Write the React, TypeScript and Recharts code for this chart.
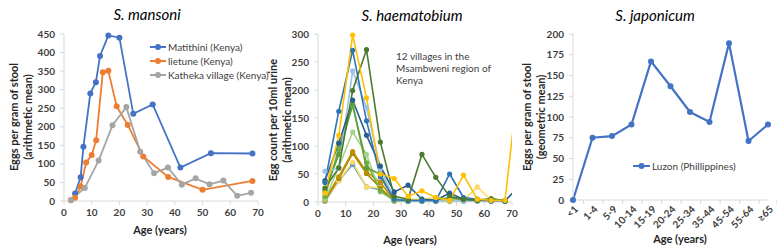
import React from "react";
import { LineChart, Line, XAxis, YAxis } from "recharts";

const FONT = "Lato, 'Open Sans', sans-serif";
const INK = "#404040";
const AXIS = "#d9d9d9";

// S. mansoni (Kenya), arithmetic mean eggs per gram of stool
const matithiniAge = [4, 6, 7, 9.5, 11.5, 13, 16, 20, 25, 32, 42, 53, 68];
const matithiniEggs = [20, 64, 146, 290, 320, 391, 446, 440, 235, 260, 90, 129, 128];
const ietuneAge = [2.5, 4, 6, 8, 10, 11.6, 14, 16, 19, 23, 28.6, 37.6, 50, 68];
const ietuneEggs = [2, 9, 39, 104, 124, 164, 347, 351, 255, 205, 120, 65, 30, 54];
const kathekaAge = [2.5, 7.5, 12.5, 17.5, 22.5, 27.5, 32.5, 37.5, 42.5, 47.5, 52.5, 57.5, 62.5, 67.5];
const kathekaEggs = [3, 35, 109, 204, 253, 133, 75, 90, 44, 61, 45, 55, 14, 22];
const mansoniTicksX = [0, 10, 20, 30, 40, 50, 60, 70];
const mansoniTicksY = [0, 50, 100, 150, 200, 250, 300, 350, 400, 450];

// S. haematobium, 12 villages in Msambweni (Kenya), eggs per 10ml urine
const haemAge = [2.5, 7.5, 12.5, 17.5, 22.5, 27.5, 32.5, 37.5, 42.5, 47.5, 52.5, 57.5, 62.5, 67.5, 72.5];
const village1 = [16, 119, 298, 186, 50, 42, 10, 20, 8, 3, 48, 5, 3, 3, 223];
const village2 = [35, 162, 271, 145, 45, 5, 2, 2, 2, 50, 8, 5, 3, 2];
const village3 = [55, 60, 234, 169, 60, 5, 3, 2, 2, 3, 2, 2, 2, 3];
const village4 = [25, 61, 199, 272, 107, 10, 5, 85, 44, 10, 5, 3, 5, 3];
const village5 = [38, 105, 182, 119, 64, 18, 30, 5, 3, 16, 5, 3, 2, 2, 28];
const village6 = [20, 85, 175, 61, 50, 5, 3, 3, 3, 8, 3, 3, 6, 2];
const village7 = [10, 95, 172, 70, 20, 3, 2, 2, 2, 3, 2, 2, 3, 2];
const village8 = [5, 62, 125, 85, 18, 3, 2, 2, 2, 2, 2, 2, 5, 2];
const village9 = [5, 45, 90, 54, 35, 3, 3, 2, 3, 2, 3, 2, 2, 2];
const village10 = [3, 42, 87, 51, 25, 2, 2, 2, 2, 2, 2, 2, 2, 2];
const village11 = [2, 38, 71, 27, 25, 3, 5, 5, 8, 5, 3, 27, 3, 3];
const village12 = [1, 38, 67, 27, 22, 2, 2, 2, 2, 2, 2, 2, 2, 2];
const haemVillages = [village12, village11, village10, village9, village8, village7, village6, village3, village5, village2, village4, village1];
const haemColors = ["#5b9bd5", "#ffd966", "#a68a00", "#bf9000", "#a9d18e", "#70ad47", "#5e9e3a", "#9dc3e6", "#255e91", "#2e75b6", "#4a7a2e", "#ffc000"];
const haemTicksY = [0, 50, 100, 150, 200, 250, 300];

// S. japonicum, Luzon (Phillippines), geometric mean eggs per gram of stool
const japonicumAge = ["<1", "1-4", "5-9", "10-14", "15-19", "20-24", "25-34", "35-44", "45-54", "55-64", "≥65"];
const japonicumEggs = [0, 75, 77, 91, 167, 137, 106, 94, 189, 71, 91];
const japonicumTicksY = [0, 25, 50, 75, 100, 125, 150, 175, 200];

const toRows = (ages: (number | string)[], eggs: number[]) =>
  eggs.map((e, i) => ({ age: ages[i], eggs: e }));

const tickStyle = { fill: INK, fontSize: 10, fontWeight: 700, fontFamily: FONT };

function Txt({ x, y, children, style }: { x: number; y: number; children: React.ReactNode; style?: React.CSSProperties }) {
  return (
    <div
      style={{
        position: "absolute",
        left: x,
        top: y,
        transform: "translate(-50%, -50%)",
        whiteSpace: "nowrap",
        fontFamily: FONT,
        color: INK,
        textAlign: "center",
        ...style,
      }}
    >
      {children}
    </div>
  );
}

function YTitle({ x, y, lines }: { x: number; y: number; lines: string[] }) {
  return (
    <Txt x={x} y={y} style={{ transform: "translate(-50%, -50%) rotate(-90deg)", fontSize: 11, fontWeight: 700, lineHeight: "14px", color: "#262626" }}>
      {lines.map((l) => (
        <div key={l}>{l}</div>
      ))}
    </Txt>
  );
}

function LegendRow({ color, label, width = 16 }: { color: string; label: string; width?: number }) {
  return (
    <div style={{ display: "flex", alignItems: "center", height: 14, fontFamily: FONT, fontSize: 10, color: INK }}>
      <svg width={width} height={8} style={{ marginRight: 2 }}>
        <line x1={0} y1={4} x2={width} y2={4} stroke={color} strokeWidth={2} />
        <circle cx={width / 2} cy={4} r={3} fill={color} />
      </svg>
      {label}
    </div>
  );
}

function JapTick(props: any) {
  const { x, y, payload, index } = props;
  const bw = 195 / 11;
  return (
    <g>
      <line x1={x - bw / 2} y1={y} x2={x - bw / 2} y2={y + 4} stroke={AXIS} />
      {index === japonicumAge.length - 1 && <line x1={x + bw / 2} y1={y} x2={x + bw / 2} y2={y + 4} stroke={AXIS} />}
      <text x={x + 3} y={y + 7} transform={`rotate(-45, ${x + 3}, ${y + 7})`} textAnchor="end" dominantBaseline="central" {...tickStyle}>
        {payload.value}
      </text>
    </g>
  );
}

export default function App() {
  const mansoni = [
    { name: "Matithini (Kenya)", color: "#4472c4", rows: toRows(matithiniAge, matithiniEggs) },
    { name: "lietune (Kenya)", color: "#ed7d31", rows: toRows(ietuneAge, ietuneEggs) },
    { name: "Katheka village (Kenya)", color: "#a5a5a5", rows: toRows(kathekaAge, kathekaEggs) },
  ];
  const haem = haemVillages.map((v) => toRows(haemAge, v));
  const jap = toRows(japonicumAge, japonicumEggs);

  return (
    <div style={{ position: "absolute", left: 0, top: 0, width: 777, height: 252, background: "#fff", overflow: "hidden" }}>
      {/* S. mansoni */}
      <div style={{ position: "absolute", left: 0, top: 0 }}>
        <LineChart width={265} height={252} margin={{ top: 34, right: 7, bottom: 21, left: 0 }}>
          <XAxis dataKey="age" type="number" domain={[0, 70]} ticks={mansoniTicksX} height={30} allowDuplicatedCategory={false}
            tick={tickStyle} stroke={AXIS} tickSize={4} tickMargin={4} />
          <YAxis type="number" domain={[0, 450]} ticks={mansoniTicksY} width={64} tick={tickStyle} stroke={AXIS} tickSize={4} tickMargin={5} />
          {mansoni.map((s) => (
            <Line key={s.name} data={s.rows} dataKey="eggs" stroke={s.color} strokeWidth={1.8}
              dot={{ r: 3, fill: s.color, stroke: s.color, strokeWidth: 0 }} isAnimationActive={false} />
          ))}
        </LineChart>
      </div>
      <Txt x={147} y={14} style={{ fontSize: 15, fontStyle: "italic", color: "#000" }}>S. mansoni</Txt>
      <YTitle x={21} y={117} lines={["Eggs per gram of stool", "(arithmetic mean)"]} />
      <Txt x={160} y={229} style={{ fontSize: 11, fontWeight: 700, color: "#262626" }}>Age (years)</Txt>
      <div style={{ position: "absolute", left: 150, top: 40 }}>
        {mansoni.map((s) => (
          <LegendRow key={s.name} color={s.color} label={s.name} />
        ))}
      </div>

      {/* S. haematobium */}
      <div style={{ position: "absolute", left: 260, top: 0 }}>
        <LineChart width={260} height={252} margin={{ top: 34, right: 8, bottom: 20, left: 0 }}>
          <XAxis dataKey="age" type="number" domain={[0, 70]} ticks={mansoniTicksX} height={30} allowDataOverflow allowDuplicatedCategory={false}
            tick={tickStyle} stroke={AXIS} tickSize={4} tickMargin={4} />
          <YAxis type="number" domain={[0, 300]} ticks={haemTicksY} width={58} tick={tickStyle} stroke={AXIS} tickSize={4} tickMargin={5} />
          {haem.map((rows, i) => (
            <Line key={i} data={rows} dataKey="eggs" stroke={haemColors[i]} strokeWidth={1.6}
              dot={{ r: 2.6, fill: haemColors[i], stroke: haemColors[i], strokeWidth: 0 }} isAnimationActive={false} />
          ))}
        </LineChart>
      </div>
      <Txt x={412} y={15} style={{ fontSize: 15, fontStyle: "italic", color: "#000" }}>S. haematobium</Txt>
      <YTitle x={280} y={120} lines={["Egg count per 10ml urine", "(arithmetic mean)"]} />
      <Txt x={410} y={239} style={{ fontSize: 11, fontWeight: 700, color: "#262626" }}>Age (years)</Txt>
      <div style={{ position: "absolute", left: 396, top: 50, fontFamily: FONT, fontSize: 10, lineHeight: "12px", color: INK }}>
        12 villages in the
        <br />
        Msambweni region of
        <br />
        Kenya
      </div>

      {/* S. japonicum */}
      <div style={{ position: "absolute", left: 520, top: 0 }}>
        <LineChart width={257} height={252} data={jap} margin={{ top: 34, right: 9, bottom: 12, left: 0 }}>
          <XAxis dataKey="age" type="category" height={40} interval={0} tick={<JapTick />} tickLine={false} tickSize={0} tickMargin={0} stroke={AXIS} />
          <YAxis type="number" domain={[0, 200]} ticks={japonicumTicksY} width={53} tick={tickStyle} stroke={AXIS} tickSize={4} tickMargin={5} />
          <Line dataKey="eggs" stroke="#4472c4" strokeWidth={2.2} dot={{ r: 3, fill: "#4472c4", stroke: "#4472c4", strokeWidth: 0 }} isAnimationActive={false} />
        </LineChart>
      </div>
      <Txt x={655} y={15} style={{ fontSize: 15, fontStyle: "italic", color: "#000" }}>S. japonicum</Txt>
      <YTitle x={534} y={117} lines={["Eggs per gram of stool", "(geometric mean)"]} />
      <Txt x={680} y={238} style={{ fontSize: 11, fontWeight: 700, color: "#262626" }}>Age (years)</Txt>
      <div style={{ position: "absolute", left: 633, top: 159 }}>
        <LegendRow color="#4472c4" label="Luzon (Phillippines)" width={17} />
      </div>
    </div>
  );
}
